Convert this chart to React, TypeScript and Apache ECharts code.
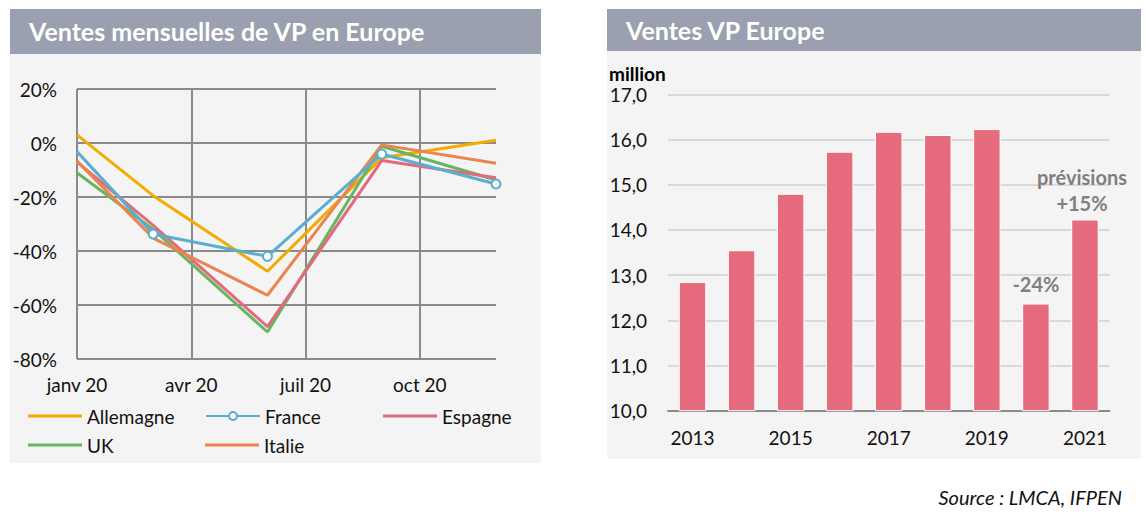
import React, { useEffect, useRef } from 'react';
import * as echarts from 'echarts';

// ---- Left chart: monthly sales change (%)
const months = ['janv 20', 'févr 20', 'mars 20', 'avr 20', 'mai 20', 'juin 20', 'juil 20', 'août 20', 'sept 20', 'oct 20', 'nov 20', 'déc 20'];
const allemagne = [3, null, -19.5, null, null, -47.5, null, null, -5.5, null, null, 1];
const france = [-3.2, null, -33.7, null, null, -42, null, null, -4.1, null, null, -15.2];
const espagne = [-7, null, -30.5, null, null, -68, null, null, -6.5, null, null, -12.9];
const uk = [-11, null, -32, null, null, -70, null, null, -1.2, null, null, -13.7];
const italie = [-6.7, null, -35.2, null, null, -56.4, null, null, -0.7, null, null, -7.5];
const pctTicks = { min: -80, max: 20, interval: 20 };

// ---- Right chart: yearly sales (million)
const years = ['2013', '2014', '2015', '2016', '2017', '2018', '2019', '2020', '2021'];
const sales = [12.85, 13.55, 14.8, 15.73, 16.17, 16.1, 16.23, 12.37, 14.23];
const salesTicks = { min: 10, max: 17, interval: 1 };
const annot2020 = '-24%';
const annot2021a = 'prévisions';
const annot2021b = '+15%';

const FONT = 'Lato, "Noto Sans", sans-serif';
const COLORS = {
  Allemagne: '#f0ad00',
  France: '#5aaed0',
  Espagne: '#e3697c',
  UK: '#66b560',
  Italie: '#ea8450',
};

export default function App() {
  const ref = useRef<HTMLDivElement>(null);
  useEffect(() => {
    if (!ref.current) return;
    const chart = echarts.init(ref.current, null, { renderer: 'svg' });
    const lineSeries = (name: string, data: (number | null)[], marker = false) => ({
      type: 'line',
      name,
      data: marker
        ? data.map((v, i) => (i === 0 && v !== null ? { value: v, symbol: 'none' } : v))
        : data,
      xAxisIndex: 0,
      yAxisIndex: 0,
      connectNulls: true,
      symbol: marker ? 'emptyCircle' : 'none',
      symbolSize: 9,
      showSymbol: marker,
      lineStyle: { color: (COLORS as any)[name], width: 3 },
      itemStyle: { color: (COLORS as any)[name], borderWidth: 2 },
      z: 3,
    });
    const legendItem = (name: string, left: number, top: number, marker = false) => ({
      data: [marker ? { name } : { name, icon: 'rect' }],
      left,
      top,
      padding: 0,
      itemWidth: 54,
      itemHeight: marker ? 10 : 3,
      textStyle: { fontFamily: FONT, fontSize: 19, color: '#111', lineHeight: 20 },
      selectedMode: false,
    });
    const salesData = sales.map((v, i) => {
      if (years[i] === '2020') {
        return {
          value: v,
          label: {
            show: true, position: 'top', distance: 10, formatter: annot2020,
            fontFamily: FONT, fontWeight: 'bold', fontSize: 20, color: '#7f7f7f',
          },
        };
      }
      if (years[i] === '2021') {
        return {
          value: v,
          label: {
            show: true, position: 'top', distance: 4, offset: [-3, 0],
            formatter: annot2021a + '\n' + annot2021b,
            fontFamily: FONT, fontWeight: 'bold', fontSize: 20, color: '#7f7f7f', lineHeight: 26,
          },
        };
      }
      return v;
    });
    chart.setOption({
      animation: false,
      textStyle: { fontFamily: FONT },
      graphic: [
        { type: 'rect', z: -10, shape: { x: 10, y: 9, width: 531, height: 45 }, style: { fill: '#9aa0b0' } },
        { type: 'rect', z: -10, shape: { x: 10, y: 54, width: 531, height: 409 }, style: { fill: '#f4f4f4' } },
        { type: 'rect', z: -10, shape: { x: 607, y: 9, width: 534, height: 42 }, style: { fill: '#9aa0b0' } },
        { type: 'rect', z: -10, shape: { x: 607, y: 51, width: 534, height: 408 }, style: { fill: '#f4f4f4' } },
        { type: 'text', z: 10, x: 29, y: 31, style: { text: 'Ventes mensuelles de VP en Europe', fill: '#fff', font: `bold 25px ${FONT}`, verticalAlign: 'middle' } },
        { type: 'text', z: 10, x: 626, y: 30, style: { text: 'Ventes VP Europe', fill: '#fff', font: `bold 25px ${FONT}`, verticalAlign: 'middle' } },
        { type: 'text', z: 10, x: 609, y: 73, style: { text: 'million', fill: '#000', font: `bold 19px ${FONT}`, verticalAlign: 'middle' } },
        { type: 'text', z: 10, x: 1122, y: 497, style: { text: 'Source : LMCA, IFPEN', fill: '#111', font: `italic 20px ${FONT}`, align: 'right', verticalAlign: 'middle' } },
      ],
      legend: [
        legendItem('Allemagne', 28, 406),
        legendItem('France', 205, 406, true),
        legendItem('Espagne', 383, 406),
        legendItem('UK', 28, 435),
        legendItem('Italie', 205, 435),
      ],
      grid: [
        { left: 77, top: 89, width: 419, height: 270 },
        { left: 668, top: 94.3, width: 441.5, height: 316.4 },
      ],
      xAxis: [
        {
          type: 'category', gridIndex: 0, data: months, boundaryGap: false,
          axisLine: { show: false }, axisTick: { show: false },
          axisLabel: { interval: 2, margin: 16, fontSize: 19, color: '#111', fontFamily: FONT },
          splitLine: { show: true, interval: 2, lineStyle: { color: '#8a8a8a', width: 2 } },
        },
        {
          type: 'category', gridIndex: 1, data: years,
          axisLine: { show: true, lineStyle: { color: '#8c8c8c', width: 2 } }, axisTick: { show: false },
          axisLabel: { interval: 1, margin: 17, fontSize: 19, color: '#111', fontFamily: FONT },
        },
      ],
      yAxis: [
        {
          type: 'value', gridIndex: 0, ...pctTicks,
          axisLine: { show: false }, axisTick: { show: false },
          axisLabel: { margin: 20, fontSize: 19, color: '#111', fontFamily: FONT, formatter: '{value}%' },
          splitLine: { show: true, lineStyle: { color: '#8a8a8a', width: 2 } },
        },
        {
          type: 'value', gridIndex: 1, ...salesTicks,
          axisLine: { show: false }, axisTick: { show: false },
          axisLabel: {
            margin: 21, fontSize: 19, color: '#111', fontFamily: FONT,
            formatter: (v: number) => v.toFixed(1).replace('.', ','),
          },
          splitLine: { show: true, lineStyle: { color: '#d9d9d9', width: 2 } },
        },
      ],
      series: [
        lineSeries('Allemagne', allemagne),
        lineSeries('UK', uk),
        lineSeries('Espagne', espagne),
        lineSeries('Italie', italie),
        lineSeries('France', france, true),
        {
          type: 'bar', name: 'Ventes', xAxisIndex: 1, yAxisIndex: 1,
          data: salesData, barWidth: '56%',
          itemStyle: { color: '#e66b7d', borderColor: '#ffffff', borderWidth: 1 },
        },
      ],
    });
    return () => chart.dispose();
  }, []);
  return <div ref={ref} style={{ position: 'absolute', left: 0, top: 0, width: 1146, height: 522 }} />;
}
